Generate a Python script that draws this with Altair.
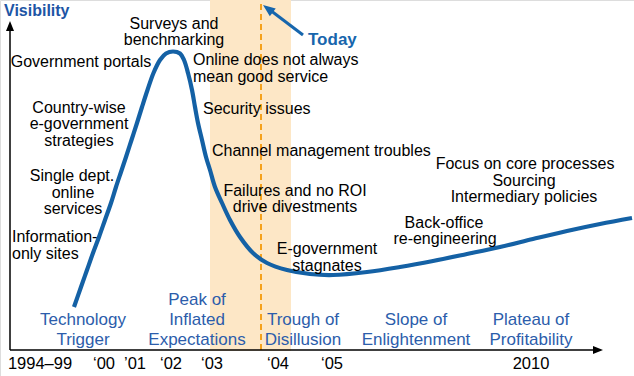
import altair as alt
import pandas as pd

FONT = "Liberation Sans"

# Hype-cycle curve: timeline position and visibility (height above the time axis)
curve_t = [74, 81, 87, 93, 99, 105, 111, 116, 121, 126, 131.5, 137, 142, 147.5, 153.5, 160, 166,
           173, 180, 184, 188, 192, 195, 198, 202, 206, 210, 215, 222, 230, 240, 253, 267, 287,
           310, 333, 367, 400, 433, 467, 500, 533, 567, 600, 632]
curve_vis = [43, 63, 80, 97, 113, 130, 147, 163, 178, 193, 210, 227, 243, 260, 277, 290, 296.5,
             298.5, 296.5, 290, 277, 260, 243, 227, 210, 193, 180, 163, 147, 130, 113, 97, 87, 80,
             76, 75, 78, 83, 89, 96, 103, 111, 119, 126, 132]

# Time-axis tick labels
tick_labels = ["1994\u201399", "\u201800", "\u201901", "\u201802", "\u201803", "\u201804", "\u201805", "2010"]
tick_t = [40, 104, 135, 171, 212, 278, 332, 531]

# Phase names (one row per line)
phase_text = ["Technology", "Trigger", "Peak of", "Inflated", "Expectations", "Trough of",
              "Disillusion", "Slope of", "Enlightenment", "Plateau of", "Profitability"]
phase_t = [83, 83, 197, 197, 197, 303, 303, 416, 416, 531, 531]
phase_vis = [30, 10, 50, 30, 10, 30, 10, 30, 10, 30, 10]

# Annotations along the curve (one row per line)
ann_text = ["Surveys and", "benchmarking", "Government portals", "Online does not always",
            "mean good service", "Country-wise", "e-government", "strategies", "Security issues",
            "Channel management troubles", "Single dept.", "online", "services", "Information-",
            "only sites", "Failures and no ROI", "drive divestments", "E-government", "stagnates",
            "Back-office", "re-engineering", "Focus on core processes", "Sourcing",
            "Intermediary policies"]
ann_t = [174, 174, 81, 193, 193, 79, 79, 79, 203, 212, 72, 73, 73, 12, 12, 295, 295, 327, 327,
         444, 445, 525, 524, 524]
ann_vis = [326, 310, 288, 290, 273, 242, 226, 209, 241, 199, 174, 157, 141, 113, 96, 159, 143,
           101, 84, 127, 111, 186, 169, 153]
ann_align = ["center", "center", "center", "left", "left", "center", "center", "center", "left",
             "left", "center", "center", "center", "left", "left", "center", "center", "center",
             "center", "center", "center", "center", "center", "center"]

# "Today" period band and marker
band_t = [210, 291]
today_t = 261

xs = alt.Scale(domain=[0, 634])
ys = alt.Scale(domain=[-26, 350])


def X(f):
    return alt.X(f, type="quantitative", scale=xs, axis=None)


def Y(f):
    return alt.Y(f, type="quantitative", scale=ys, axis=None)


def X2(f):
    return alt.X2(f)


def Y2(f):
    return alt.Y2(f)


band_df = pd.DataFrame({"x": [band_t[0]], "x2": [band_t[1]], "y": [-1], "y2": [350]})
band = alt.Chart(band_df).mark_rect(color="#fde7c6").encode(
    x=X("x"), x2=X2("x2"), y=Y("y"), y2=Y2("y2"))

today_df = pd.DataFrame({"x": [today_t], "y": [0], "y2": [350]})
today_line = alt.Chart(today_df).mark_rule(color="#f5a11c", strokeWidth=2, strokeDash=[6, 4]).encode(
    x=X("x"), y=Y("y"), y2=Y2("y2"))

curve_df = pd.DataFrame({"t": curve_t, "v": curve_vis})
curve = alt.Chart(curve_df).mark_line(color="#1461a5", strokeWidth=4.2, interpolate="catmull-rom").encode(
    x=X("t"), y=Y("v"))

axes_df = pd.DataFrame({"x": [10, 10], "y": [0, 0], "x2": [10, 596], "y2": [322, 0]})
axes = alt.Chart(axes_df).mark_rule(color="black", strokeWidth=1.5).encode(
    x=X("x"), y=Y("y"), x2=X2("x2"), y2=Y2("y2"))

HEAD = "M0,0L-2,-0.8L-2,0.8Z"
yhead = alt.Chart(pd.DataFrame({"x": [10], "y": [329]})).mark_point(
    shape=HEAD, filled=True, size=100, angle=270, color="black", opacity=1, strokeWidth=0).encode(
    x=X("x"), y=Y("y"))
xhead = alt.Chart(pd.DataFrame({"x": [603], "y": [0]})).mark_point(
    shape=HEAD, filled=True, size=100, angle=0, color="black", opacity=1, strokeWidth=0).encode(
    x=X("x"), y=Y("y"))

arrow_df = pd.DataFrame({"x": [303], "y": [315], "x2": [270], "y2": [340]})
arrow = alt.Chart(arrow_df).mark_rule(color="#1766ad", strokeWidth=3).encode(
    x=X("x"), y=Y("y"), x2=X2("x2"), y2=Y2("y2"))
arrowhead = alt.Chart(pd.DataFrame({"x": [263], "y": [345]})).mark_point(
    shape=HEAD, filled=True, size=150, angle=217, color="#1766ad", opacity=1, strokeWidth=0).encode(
    x=X("x"), y=Y("y"))

titles_df = pd.DataFrame({"text": ["Visibility"], "x": [4], "y": [339]})
vis_title = alt.Chart(titles_df).mark_text(
    align="left", baseline="middle", font=FONT, fontSize=16, fontWeight="bold", color="#1d55a5").encode(
    x=X("x"), y=Y("y"), text="text:N")

today_txt_df = pd.DataFrame({"text": ["Today"], "x": [308], "y": [310]})
today_txt = alt.Chart(today_txt_df).mark_text(
    align="left", baseline="middle", font=FONT, fontSize=17, fontWeight="bold", color="#1766ad").encode(
    x=X("x"), y=Y("y"), text="text:N")

ticks_df = pd.DataFrame({"text": tick_labels, "x": tick_t, "y": [-14] * len(tick_t)})
ticks = alt.Chart(ticks_df).mark_text(
    align="center", baseline="middle", font=FONT, fontSize=16.5, color="black").encode(
    x=X("x"), y=Y("y"), text="text:N")

phase_df = pd.DataFrame({"text": phase_text, "x": phase_t, "y": phase_vis})
phases = alt.Chart(phase_df).mark_text(
    align="center", baseline="middle", font=FONT, fontSize=17, color="#2c5dab").encode(
    x=X("x"), y=Y("y"), text="text:N")

ann_df = pd.DataFrame({"text": ann_text, "x": ann_t, "y": ann_vis, "align": ann_align})
ann_c = alt.Chart(ann_df[ann_df["align"] == "center"]).mark_text(
    align="center", baseline="middle", font=FONT, fontSize=16, color="black").encode(
    x=X("x"), y=Y("y"), text="text:N")
ann_l = alt.Chart(ann_df[ann_df["align"] == "left"]).mark_text(
    align="left", baseline="middle", font=FONT, fontSize=16, color="black").encode(
    x=X("x"), y=Y("y"), text="text:N")

chart = alt.layer(
    band, today_line, curve, axes, yhead, xhead, arrow, arrowhead,
    vis_title, today_txt, ticks, phases, ann_c, ann_l
).properties(
    width=634, height=376, padding=0, autosize=alt.AutoSizeParams(type="none")
).configure_view(stroke=None).configure(background="white")

chart.save("out.html", embed_options={"renderer": "svg", "actions": False})
